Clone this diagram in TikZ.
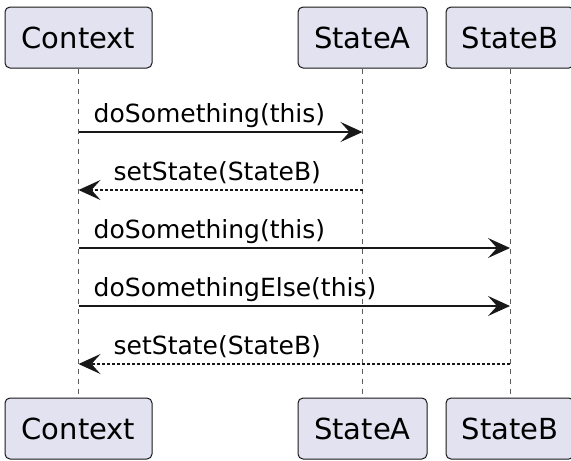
\documentclass[tikz,border=0pt]{standalone}
\usepackage{fontspec}
\setmainfont{DejaVu Sans}
\usetikzlibrary{arrows.meta}
\definecolor{partfill}{HTML}{E2E2F0}
\definecolor{umlline}{HTML}{181818}

\begin{document}
\begin{tikzpicture}[x=1pt,y=-1pt,
  part/.style={draw=umlline,fill=partfill,rounded corners=5pt,line width=1pt,minimum height=61pt,inner sep=0pt,font=\fontsize{29}{34}\selectfont},
  life/.style={umlline!70,line width=1pt,dash pattern=on 5pt off 5pt},
  msg/.style={-{Stealth[length=22pt,width=20pt,inset=9pt]},line width=1.4pt,umlline},
  ret/.style={msg,dash pattern=on 3pt off 2pt},
  lbl/.style={anchor=base west,inner sep=0pt,font=\fontsize{25}{30}\selectfont}]
  \useasboundingbox (0,0) rectangle (571,461);
  % participants, top and bottom
  \node[part,minimum width=147pt] (ctxTop) at (78.5,37.5) {Context};
  \node[part,minimum width=129pt] (saTop) at (362.5,37.5) {StateA};
  \node[part,minimum width=128pt] (sbTop) at (510,37.5) {StateB};
  \node[part,minimum width=147pt] (ctxBot) at (78.5,428.5) {Context};
  \node[part,minimum width=129pt] (saBot) at (362.5,428.5) {StateA};
  \node[part,minimum width=128pt] (sbBot) at (510,428.5) {StateB};
  % lifelines
  \draw[life] (ctxTop.south) -- (ctxBot.north);
  \draw[life] (saTop.south) -- (saBot.north);
  \draw[life] (sbTop.south) -- (sbBot.north);
  % messages
  \coordinate (c1) at (ctxTop.south |- 0,132);
  \coordinate (a1) at (saTop.south |- 0,132);
  \coordinate (c2) at (ctxTop.south |- 0,190);
  \coordinate (a2) at (saTop.south |- 0,190);
  \coordinate (c3) at (ctxTop.south |- 0,248);
  \coordinate (b3) at (sbTop.south |- 0,248);
  \coordinate (c4) at (ctxTop.south |- 0,306);
  \coordinate (b4) at (sbTop.south |- 0,306);
  \coordinate (c5) at (ctxTop.south |- 0,364);
  \coordinate (b5) at (sbTop.south |- 0,364);
  \draw[msg] (c1) -- (a1);
  \node[lbl] (t1) at ([xshift=15pt,yshift=10pt]c1) {doSomething(this)};
  \draw[ret] (a2) -- (c2);
  \node[lbl] (t2) at ([xshift=35pt,yshift=10pt]c2) {setState(StateB)};
  \draw[msg] (c3) -- (b3);
  \node[lbl] (t3) at ([xshift=15pt,yshift=10pt]c3) {doSomething(this)};
  \draw[msg] (c4) -- (b4);
  \node[lbl] (t4) at ([xshift=15pt,yshift=10pt]c4) {doSomethingElse(this)};
  \draw[ret] (b5) -- (c5);
  \node[lbl] (t5) at ([xshift=35pt,yshift=10pt]c5) {setState(StateB)};
\end{tikzpicture}
\end{document}
